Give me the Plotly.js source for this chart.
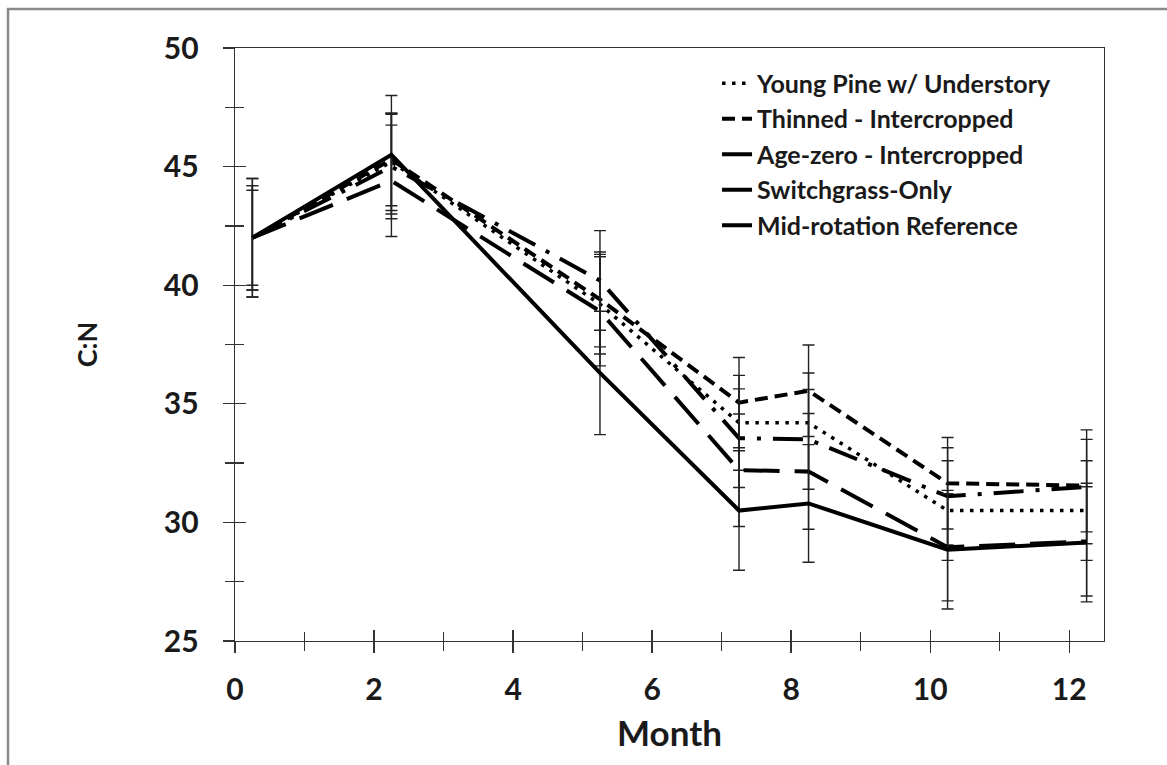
<!DOCTYPE html>
<html>
<head>
<meta charset="utf-8">
<script src="https://cdn.plot.ly/plotly-3.0.1.min.js"></script>
<style>
  html, body { margin: 0; padding: 0; background: #fff; }
  #chart { width: 1167px; height: 765px; }
</style>
</head>
<body>
<div id="chart"></div>
<script>
// ---- data ----
var months = [0.25, 2.25, 5.25, 7.25, 8.25, 10.25, 12.25];

var seriesNames = [
  "Young Pine w/ Understory",
  "Thinned - Intercropped",
  "Age-zero - Intercropped",
  "Switchgrass-Only",
  "Mid-rotation Reference"
];

var youngPine   = [42.0, 45.2, 39.2, 34.2, 34.2, 30.5, 30.5];
var thinned     = [42.0, 45.3, 39.4, 35.05, 35.55, 31.65, 31.55];
var ageZero     = [42.0, 45.0, 40.2, 33.55, 33.5, 31.1, 31.5];
var switchgrass = [42.0, 44.4, 38.9, 32.2, 32.15, 28.95, 29.2];
var midRotation = [42.0, 45.5, 36.3, 30.5, 30.8, 28.85, 29.15];

var youngPineErr   = [2.2, 2.05, 2.1, 2.0, 2.1, 2.1, 2.1];
var thinnedErr     = [2.0, 1.95, 2.0, 1.9, 1.93, 1.93, 1.95];
var ageZeroErr     = [2.2, 2.2, 2.1, 2.08, 2.1, 2.05, 2.4];
var switchgrassErr = [2.5, 2.35, 2.3, 2.37, 2.44, 2.26, 2.3];
var midRotationErr = [2.5, 2.5, 2.6, 2.52, 2.48, 2.5, 2.5];

var yTickVals = [25, 30, 35, 40, 45, 50];
var xTickVals = [0, 2, 4, 6, 8, 10, 12];

// ---- styles ----
var values = [youngPine, thinned, ageZero, switchgrass, midRotation];
var errors = [youngPineErr, thinnedErr, ageZeroErr, switchgrassErr, midRotationErr];
var dashes = ["3.5px,6.5px", "13px,7px", "30px,12px,4px,12px", "36px,15px", "solid"];
var widths = [3.5, 4, 4, 4, 4];

var traces = values.map(function (v, i) {
  return {
    type: "scatter",
    mode: "lines",
    name: seriesNames[i],
    x: months,
    y: v,
    line: { color: "#000000", width: widths[i], dash: dashes[i] },
    error_y: {
      type: "data",
      array: errors[i],
      visible: true,
      color: "#222222",
      thickness: 1.4,
      width: 6
    }
  };
});

// invisible carrier trace so the overlay axes (inner half of the cross ticks) are drawn
traces.push({
  type: "scatter", mode: "none", x: months, y: midRotation,
  xaxis: "x2", yaxis: "y2", showlegend: false, hoverinfo: "skip"
});

var fontFam = "Lato, 'Open Sans', sans-serif";
var ink = "#1a1a1a";
var axisCol = "#333333";

var layout = {
  width: 1167,
  height: 765,
  margin: { l: 235, r: 63, t: 48, b: 124 },
  paper_bgcolor: "#ffffff",
  plot_bgcolor: "#ffffff",
  showlegend: true,
  legend: {
    x: 0.5547, y: 0.979, xanchor: "left", yanchor: "top",
    bgcolor: "rgba(255,255,255,0)",
    font: { family: fontFam, size: 25, color: ink, weight: "bold" },
    itemwidth: 30,
    tracegroupgap: 0
  },
  xaxis: {
    range: [0, 12.5],
    tickvals: xTickVals,
    ticktext: xTickVals.map(String),
    ticks: "outside", ticklen: 11, tickwidth: 1.4, tickcolor: axisCol,
    minor: { dtick: 1, tick0: 0, ticks: "outside", ticklen: 9, tickwidth: 1.4, tickcolor: axisCol },
    showline: true, linecolor: axisCol, linewidth: 1.4, mirror: true,
    showgrid: false, zeroline: false,
    ticklabelstandoff: 11,
    tickfont: { family: fontFam, size: 30, color: ink, weight: "bold" },
    title: { text: "Month", standoff: 16, font: { family: fontFam, size: 35, color: ink, weight: "bold" } }
  },
  yaxis: {
    range: [25, 50],
    tickvals: yTickVals,
    ticktext: yTickVals.map(String),
    ticks: "outside", ticklen: 11, tickwidth: 1.4, tickcolor: axisCol,
    minor: { dtick: 2.5, tick0: 25, ticks: "outside", ticklen: 9, tickwidth: 1.4, tickcolor: axisCol },
    showline: true, linecolor: axisCol, linewidth: 1.4, mirror: true,
    showgrid: false, zeroline: false,
    ticklabelstandoff: 18,
    tickfont: { family: fontFam, size: 30, color: ink, weight: "bold" },
    title: { text: "C:N", standoff: 58, font: { family: fontFam, size: 27, color: ink, weight: "bold" } }
  },
  xaxis2: {
    overlaying: "x", anchor: "y2", range: [0, 12.5],
    tickvals: xTickVals, showticklabels: false,
    ticks: "inside", ticklen: 11, tickwidth: 1.4, tickcolor: axisCol,
    minor: { dtick: 1, tick0: 0, ticks: "inside", ticklen: 9, tickwidth: 1.4, tickcolor: axisCol },
    showline: false, showgrid: false, zeroline: false
  },
  yaxis2: {
    overlaying: "y", anchor: "x2", range: [25, 50],
    tickvals: yTickVals, showticklabels: false,
    ticks: "inside", ticklen: 11, tickwidth: 1.4, tickcolor: axisCol,
    minor: { dtick: 2.5, tick0: 25, ticks: "inside", ticklen: 9, tickwidth: 1.4, tickcolor: axisCol },
    showline: false, showgrid: false, zeroline: false
  },
  shapes: [{
    type: "rect", xref: "paper", yref: "paper",
    x0: -0.2612, x1: 1.2, y0: -0.3, y1: 1.0658,
    line: { color: "#8a8a8a", width: 2.5 },
    fillcolor: "rgba(0,0,0,0)",
    layer: "below"
  }]
};

Plotly.newPlot("chart", traces, layout, { displayModeBar: false, staticPlot: true });
</script>
</body>
</html>
